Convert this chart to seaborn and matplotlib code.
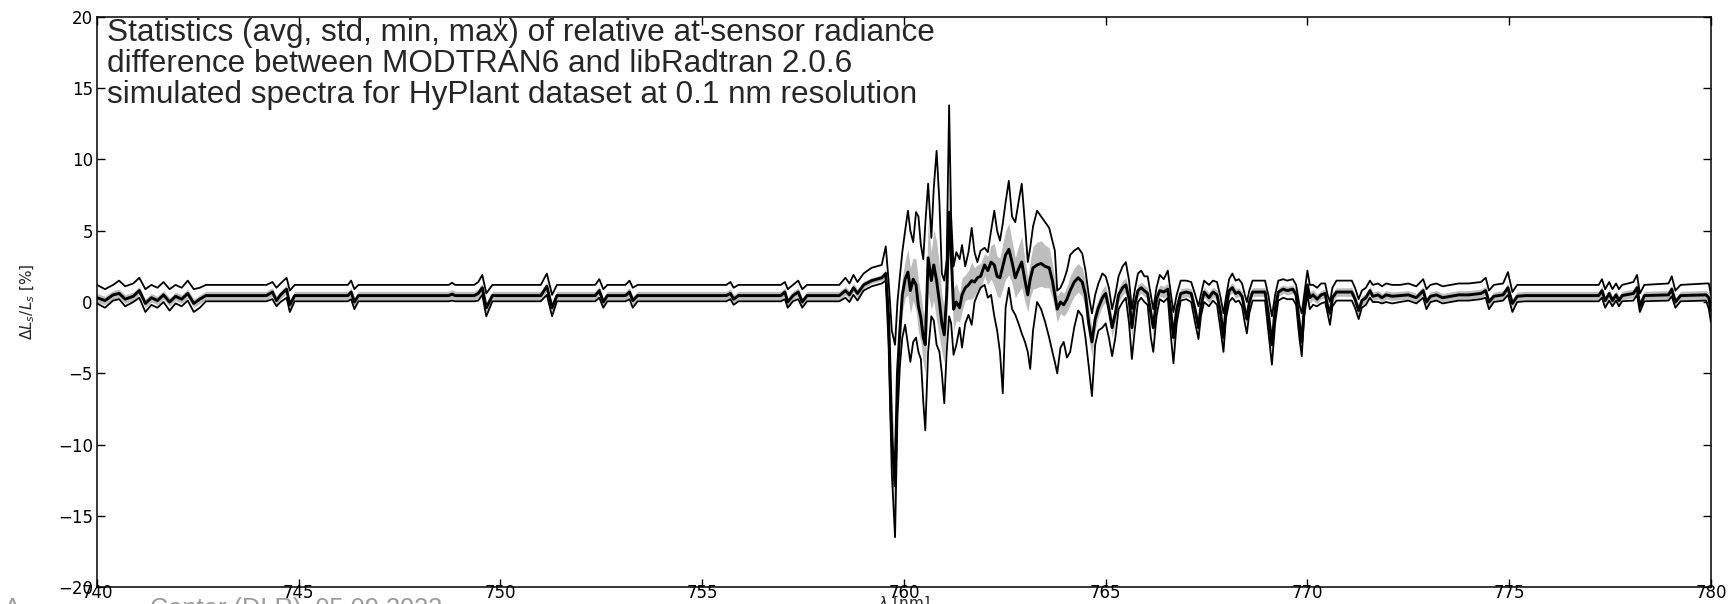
import numpy as np
import pandas as pd
import matplotlib
matplotlib.use("Agg")
import matplotlib.pyplot as plt
import seaborn as sns

# Relative at-sensor radiance difference MODTRAN6 vs libRadtran
# wavelength grid in nm, one block per spectral region
wavelength = [
    # 740 - 742.7, wiggly start
    740.00, 740.20, 740.40, 740.55, 740.70, 740.90, 741.05, 741.20, 741.35, 741.50,
    741.65, 741.80, 741.95, 742.10, 742.25, 742.40, 742.55, 742.70,
    # 744 - 759.5, flat with small lines
    744.20, 744.35, 744.45, 744.55, 744.70, 744.78, 744.90,
    746.22, 746.30, 746.38, 746.48,
    748.72, 748.80, 748.88,
    749.35, 749.45, 749.55, 749.65, 749.80,
    751.00, 751.15, 751.28, 751.40,
    752.35, 752.45, 752.55, 752.65,
    753.10, 753.20, 753.28, 753.40,
    755.60, 755.70, 755.78, 755.90,
    756.95, 757.05, 757.12, 757.25, 757.38, 757.48, 757.60,
    758.40, 758.55, 758.65, 758.75, 758.85, 759.00, 759.20, 759.45,
    # O2-A band 759.5 - 772.3
    759.55, 759.62, 759.70, 759.78, 759.84, 759.90, 759.96, 760.03, 760.10, 760.16,
    760.23, 760.30, 760.36, 760.42, 760.48, 760.53, 760.60, 760.68, 760.74, 760.81,
    760.88, 760.94, 761.00, 761.06, 761.12, 761.17, 761.23, 761.30, 761.38, 761.44,
    761.52, 761.60, 761.68, 761.75, 761.82, 761.90, 762.00, 762.08, 762.16, 762.24,
    762.31, 762.38, 762.45, 762.52, 762.60, 762.68, 762.76, 762.84, 762.92, 763.00,
    763.07, 763.13, 763.20, 763.30, 763.40, 763.50, 763.60, 763.68, 763.74, 763.80,
    763.88, 763.96, 764.04, 764.12, 764.22, 764.32, 764.42, 764.50, 764.58, 764.66,
    764.74, 764.82, 764.92, 765.00, 765.08, 765.16, 765.24, 765.32, 765.42, 765.50,
    765.58, 765.65, 765.72, 765.80, 765.88, 765.96, 766.04, 766.12, 766.18, 766.26,
    766.34, 766.44, 766.54, 766.62, 766.68, 766.76, 766.86, 767.00, 767.12, 767.22,
    767.30, 767.36, 767.44, 767.56, 767.66, 767.76, 767.85, 767.92, 767.98, 768.06,
    768.14, 768.22, 768.30, 768.38, 768.45, 768.50, 768.56, 768.64, 768.95, 769.03,
    769.12, 769.20, 769.28, 769.40, 769.50, 769.64, 769.72, 769.80, 769.86, 769.92,
    770.00, 770.06, 770.14, 770.24, 770.34, 770.44, 770.50, 770.56, 770.62, 770.72,
    771.10, 771.18, 771.27, 771.35, 771.45, 771.55, 771.62, 771.75, 771.85, 771.95,
    772.10, 772.30,
    # 772.5 - 780, flat tail
    772.50, 772.70, 772.87, 772.95, 773.05, 773.20, 773.35, 773.55, 773.75, 774.00,
    774.30, 774.42, 774.50, 774.62, 774.85, 774.97, 775.08, 775.20, 775.40, 777.22,
    777.30, 777.38, 777.48, 777.56, 777.65, 777.72, 777.80, 778.08, 778.17, 778.24,
    778.35, 778.95, 779.03, 779.12, 779.25, 779.88, 779.95, 780.00,
]

max_diff = [
    1.2, 0.9, 1.2, 1.5, 1.1, 1.3, 1.7, 0.9, 1.2, 1.0,
    1.4, 0.9, 1.2, 1.0, 1.5, 0.9, 1.0, 1.2,
    1.2, 1.4, 1.0, 1.3, 1.7, 0.8, 1.2,
    1.2, 1.5, 0.9, 1.2,
    1.2, 1.35, 1.2,
    1.2, 1.4, 1.9, 0.6, 1.2,
    1.2, 2.0, 0.5, 1.2,
    1.2, 1.6, 0.9, 1.2,
    1.2, 1.5, 1.0, 1.2,
    1.2, 1.4, 1.0, 1.2,
    1.2, 1.4, 0.9, 1.2, 1.5, 0.9, 1.2,
    1.2, 1.7, 1.3, 1.9, 1.4, 2.0, 2.4, 2.6,
    3.9, 1.5, -2.0, -3.0, 0.0, 1.8, 3.5, 5.0, 6.4, 5.0,
    4.2, 6.3, 6.0, 4.0, 3.0, 5.5, 8.3, 4.5, 8.0, 10.6,
    7.0, 2.0, 1.5, 3.0, 13.8, 6.0, 2.5, 3.5, 3.0, 4.0,
    2.5, 3.5, 5.2, 3.5, 2.8, 3.6, 3.8, 3.5, 5.0, 6.4,
    5.0, 4.3, 5.5, 7.0, 8.5, 6.0, 5.6, 7.0, 8.3, 5.5,
    2.8, 3.8, 5.3, 6.4, 6.0, 5.6, 5.2, 4.3, 3.6, 0.8,
    1.0, 1.5, 2.2, 3.3, 3.6, 3.8, 3.4, 2.2, 0.5, -0.8,
    0.5, 1.3, 2.0, 1.8, 1.0, -0.5, 0.5, 1.8, 2.5, 2.8,
    1.5, -0.5, 0.8, 2.0, 2.2, 1.8, 1.8, 0.5, -0.5, 1.0,
    1.9, 1.6, 2.2, 0.5, -0.7, 0.5, 1.5, 1.5, 1.4, 0.5,
    -0.3, 0.5, 1.5, 1.2, 1.5, 1.4, 0.3, -0.8, 0.3, 1.6,
    2.0, 1.5, 1.6, 1.3, 0.5, 0.0, 0.8, 1.5, 1.5, 0.5,
    -1.0, 0.5, 1.5, 1.6, 1.5, 1.6, 1.2, -0.2, -0.8, 0.5,
    2.2, 1.2, 1.2, 1.0, 1.3, 1.3, 0.5, 0.0, 1.0, 1.5,
    1.5, 1.0, 0.2, 0.8, 1.0, 1.5, 1.2, 1.3, 1.1, 1.3,
    1.2, 1.2,
    1.3, 1.1, 1.6, 0.9, 1.2, 1.3, 1.1, 1.2, 1.3, 1.3,
    1.4, 1.7, 0.8, 1.2, 1.3, 2.1, 0.7, 1.2, 1.2, 1.2,
    1.6, 0.9, 1.4, 0.9, 1.3, 0.9, 1.2, 1.4, 1.9, 0.6,
    1.2, 1.3, 1.8, 0.8, 1.2, 1.3, 1.3, 0.5,
]

avg_diff = [
    0.3, 0.1, 0.5, 0.6, 0.2, 0.4, 0.8, -0.1, 0.3, 0.1,
    0.5, 0.0, 0.4, 0.2, 0.6, -0.1, 0.2, 0.45,
    0.45, 0.7, 0.1, 0.5, 0.9, -0.2, 0.45,
    0.45, 0.7, 0.0, 0.45,
    0.45, 0.55, 0.45,
    0.45, 0.6, 1.0, -0.4, 0.45,
    0.45, 1.1, -0.4, 0.45,
    0.45, 0.8, 0.0, 0.45,
    0.45, 0.7, 0.1, 0.45,
    0.45, 0.6, 0.2, 0.45,
    0.45, 0.7, 0.0, 0.45, 0.7, 0.0, 0.45,
    0.45, 0.8, 0.5, 1.0, 0.6, 1.2, 1.5, 1.7,
    2.0, -1.0, -9.5, -12.9, -5.0, -2.0, 0.5, 1.6, 2.1, 0.8,
    1.6, 1.2, -0.3, -1.1, -2.5, -3.0, 3.1, 1.5, 2.6, 1.5,
    0.0, -1.5, -2.3, 0.5, 6.3, 3.5, -0.5, 0.0, -0.4, 0.5,
    1.0, 1.2, 1.5, 1.4, 1.7, 1.8, 2.6, 2.2, 2.8, 2.6,
    1.8, 1.7, 2.5, 3.3, 3.7, 2.8, 1.7, 2.3, 2.8, 1.5,
    0.5, 1.6, 2.4, 2.6, 2.7, 2.5, 2.4, 1.5, 0.5, -0.5,
    0.0, -0.2, 0.2, 0.8, 1.4, 1.7, 1.4, 0.5, -1.5, -2.8,
    -1.2, -0.4, 0.3, 0.6, -0.5, -1.8, -0.8, 0.5, 1.0, 1.2,
    0.2, -1.8, -0.2, 0.8, 1.0, 0.8, 0.6, -0.8, -1.8, 0.2,
    0.8, 0.7, 0.9, -0.8, -2.5, -0.5, 0.6, 0.7, 0.6, -0.6,
    -1.8, -0.3, 0.7, 0.3, 0.7, 0.5, -0.8, -2.5, -0.5, 0.8,
    1.0, 0.6, 0.7, 0.4, -0.6, -1.2, 0.0, 0.7, 0.7, -0.8,
    -3.0, -0.5, 0.7, 0.9, 0.8, 0.9, 0.5, -1.5, -2.8, -0.5,
    1.2, 0.3, 0.5, 0.2, 0.5, 0.6, -0.3, -0.8, 0.3, 0.7,
    0.7, 0.2, -0.6, 0.1, 0.3, 0.8, 0.4, 0.5, 0.3, 0.5,
    0.4, 0.45,
    0.5, 0.3, 0.8, 0.0, 0.4, 0.5, 0.3, 0.4, 0.5, 0.5,
    0.6, 0.8, 0.0, 0.4, 0.5, 1.0, -0.1, 0.4, 0.45, 0.45,
    0.8, 0.1, 0.6, 0.1, 0.5, 0.1, 0.45, 0.6, 1.0, -0.3,
    0.45, 0.5, 0.9, 0.0, 0.45, 0.5, 0.3, -0.6,
]

min_diff = [
    -0.1, -0.4, 0.1, 0.2, -0.3, 0.0, 0.3, -0.7, -0.2, -0.4,
    0.0, -0.6, -0.1, -0.3, 0.1, -0.7, -0.4, 0.05,
    0.05, 0.2, -0.3, 0.0, 0.3, -0.7, 0.05,
    0.05, 0.2, -0.5, 0.05,
    0.05, 0.1, 0.05,
    0.05, 0.1, 0.5, -1.0, 0.05,
    0.05, 0.5, -1.0, 0.05,
    0.05, 0.3, -0.4, 0.05,
    0.05, 0.2, -0.4, 0.05,
    0.05, 0.2, -0.2, 0.05,
    0.05, 0.2, -0.4, 0.05, 0.2, -0.4, 0.05,
    0.05, 0.3, 0.0, 0.5, 0.1, 0.8, 1.1, 1.3,
    1.5, -3.0, -12.0, -16.5, -8.0, -4.5, -2.5, -1.6, -3.0, -4.2,
    -2.8, -2.5, -3.5, -4.0, -7.0, -9.0, -3.5, -1.0, -1.3, -3.0,
    -3.5, -5.0, -7.1, -3.5, -1.0, -1.5, -3.7, -3.0, -1.8, -3.2,
    -1.5, -0.9, -1.6, 0.0, 0.5, 1.0, 1.2, 0.3, 0.5, -1.0,
    -2.0, -3.5, -6.4, -0.4, 1.0, -0.5, -0.9, -1.5, -2.2, -2.8,
    -3.5, -4.7, -2.0, 0.0, -0.5, -1.4, -2.5, -3.5, -4.2, -5.0,
    -3.2, -2.8, -3.9, -3.5, -1.8, -0.6, -1.0, -2.5, -4.5, -6.6,
    -3.0, -2.0, -1.8, -1.5, -2.5, -3.8, -2.5, -0.5, 0.0, 0.3,
    -1.5, -4.0, -2.0, 0.0, 0.3, 0.0, -0.2, -2.5, -3.5, -1.0,
    0.2, 0.0, 0.3, -2.5, -4.3, -1.5, 0.1, 0.2, 0.0, -1.5,
    -2.6, -1.0, 0.0, -0.3, 0.1, -0.2, -2.0, -3.5, -1.2, 0.0,
    0.3, 0.0, 0.1, -0.3, -1.5, -2.2, -0.8, 0.1, 0.1, -2.0,
    -4.4, -1.5, 0.1, 0.3, 0.2, 0.2, -0.2, -2.5, -3.8, -1.0,
    0.5, -0.5, -0.2, -0.3, -0.1, 0.0, -0.8, -1.6, -0.3, 0.1,
    0.1, -0.4, -1.2, -0.4, -0.2, 0.3, 0.0, 0.0, -0.1, 0.0,
    -0.1, 0.0,
    0.1, -0.1, 0.3, -0.5, 0.0, 0.1, -0.1, 0.0, 0.1, 0.1,
    0.2, 0.3, -0.5, 0.0, 0.1, 0.5, -0.7, 0.0, 0.05, 0.05,
    0.3, -0.4, 0.1, -0.3, 0.1, -0.3, 0.05, 0.1, 0.5, -0.7,
    0.05, 0.1, 0.4, -0.4, 0.05, 0.1, -0.5, -1.4,
]

std_diff = [
    0.3, 0.3, 0.3, 0.3, 0.3, 0.3, 0.3, 0.3, 0.3, 0.3,
    0.3, 0.3, 0.3, 0.3, 0.3, 0.3, 0.3, 0.3,
    0.3, 0.3, 0.3, 0.3, 0.3, 0.3, 0.3,
    0.3, 0.3, 0.3, 0.3,
    0.3, 0.3, 0.3,
    0.3, 0.3, 0.3, 0.3, 0.3,
    0.3, 0.3, 0.3, 0.3,
    0.3, 0.3, 0.3, 0.3,
    0.3, 0.3, 0.3, 0.3,
    0.3, 0.3, 0.3, 0.3,
    0.3, 0.3, 0.3, 0.3, 0.3, 0.3, 0.3,
    0.3, 0.3, 0.3, 0.3, 0.3, 0.25, 0.2, 0.2,
    0.3, 1.0, 2.5, 2.5, 2.0, 1.5, 1.2, 1.3, 1.6, 1.6,
    1.5, 1.8, 1.8, 1.7, 1.8, 2.0, 2.5, 2.0, 2.5, 2.8,
    2.5, 2.0, 2.0, 2.0, 3.0, 2.0, 1.5, 1.3, 1.0, 1.2,
    0.9, 1.0, 1.3, 1.0, 0.9, 0.9, 0.8, 1.0, 1.2, 1.5,
    1.4, 1.4, 1.6, 1.7, 1.8, 1.5, 1.4, 1.6, 1.8, 1.5,
    1.2, 1.3, 1.5, 1.6, 1.6, 1.5, 1.4, 1.2, 1.0, 0.9,
    0.8, 0.8, 0.9, 1.0, 1.0, 1.0, 1.0, 0.9, 1.0, 1.0,
    0.8, 0.6, 0.6, 0.6, 0.6, 0.7, 0.6, 0.5, 0.5, 0.5,
    0.6, 0.7, 0.5, 0.4, 0.4, 0.4, 0.4, 0.6, 0.6, 0.4,
    0.4, 0.4, 0.4, 0.6, 0.8, 0.5, 0.35, 0.3, 0.35, 0.5,
    0.6, 0.4, 0.35, 0.35, 0.35, 0.35, 0.5, 0.7, 0.4, 0.35,
    0.35, 0.35, 0.3, 0.35, 0.5, 0.5, 0.4, 0.3, 0.3, 0.6,
    0.9, 0.5, 0.3, 0.3, 0.3, 0.3, 0.35, 0.6, 0.8, 0.4,
    0.35, 0.4, 0.35, 0.35, 0.3, 0.3, 0.4, 0.5, 0.35, 0.3,
    0.3, 0.35, 0.45, 0.35, 0.3, 0.3, 0.3, 0.3, 0.3, 0.3,
    0.3, 0.3,
    0.3, 0.3, 0.3, 0.3, 0.3, 0.3, 0.3, 0.3, 0.3, 0.3,
    0.3, 0.3, 0.3, 0.3, 0.3, 0.3, 0.3, 0.3, 0.3, 0.3,
    0.3, 0.3, 0.3, 0.3, 0.3, 0.3, 0.3, 0.3, 0.3, 0.3,
    0.3, 0.3, 0.3, 0.3, 0.3, 0.3, 0.3, 0.3,
]

df = pd.DataFrame({
    "wavelength": wavelength,
    "avg": avg_diff,
    "std": std_diff,
    "min": min_diff,
    "max": max_diff,
})

sns.set_style("ticks")
plt.rcParams["font.family"] = ["DejaVu Sans"]
plt.rcParams["xtick.direction"] = "in"
plt.rcParams["ytick.direction"] = "in"

fig = plt.figure(figsize=(17.28, 6.04), dpi=100)
ax = fig.add_axes([0.0561, 0.028, 0.9340, 0.944])

# +/- std band around the average
ax.fill_between(df["wavelength"], df["avg"] - df["std"], df["avg"] + df["std"],
                color="0.74", linewidth=0, zorder=1)

sns.lineplot(data=df, x="wavelength", y="min", color="black", linewidth=1.3,
             estimator=None, sort=False, ax=ax, zorder=2)
sns.lineplot(data=df, x="wavelength", y="max", color="black", linewidth=1.3,
             estimator=None, sort=False, ax=ax, zorder=2)
sns.lineplot(data=df, x="wavelength", y="avg", color="black", linewidth=2.1,
             estimator=None, sort=False, ax=ax, zorder=3)

ax.set_xlim(740, 780)
ax.set_ylim(-20, 20)
ax.set_xticks(np.arange(740, 781, 5))
ax.set_yticks(np.arange(-20, 21, 5))
ax.tick_params(axis="both", which="both", direction="in", top=True, right=True,
               length=6, width=1, labelsize=12, colors="black")
ax.tick_params(axis="x", pad=-2)
ax.tick_params(axis="y", pad=3)
for s in ax.spines.values():
    s.set_visible(True)
    s.set_linewidth(1.1)
    s.set_color("black")

ax.set_xlabel(r"$\lambda$ [nm]", fontsize=11)
ax.xaxis.set_label_coords(0.5, -0.013)
ax.set_ylabel(r"$\Delta L_s/L_s$ [%]", fontsize=11, labelpad=15)

ax.text(0.006, 0.998,
        "Statistics (avg, std, min, max) of relative at-sensor radiance\n"
        "difference between MODTRAN6 and libRadtran 2.0.6\n"
        "simulated spectra for HyPlant dataset at 0.1 nm resolution",
        transform=ax.transAxes, ha="left", va="top", fontsize=22.7,
        family=["Liberation Sans", "DejaVu Sans"], linespacing=1.05, zorder=5)

# footer text cut by the lower edge
fig.text(0.002, -0.02, "A", color="#9a9a9a", fontsize=18.3,
         family=["Liberation Sans", "DejaVu Sans"], va="baseline")
fig.text(0.087, -0.02, "Center (DLR), 05.09.2023", color="#9a9a9a", fontsize=18.3,
         family=["Liberation Sans", "DejaVu Sans"], va="baseline")

fig.savefig("out.png", dpi=100)
